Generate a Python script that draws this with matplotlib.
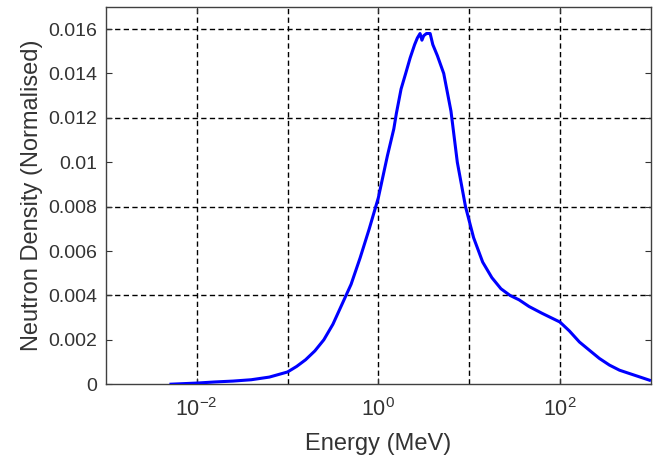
import matplotlib
matplotlib.use("Agg")
import matplotlib.pyplot as plt
from matplotlib.ticker import FixedLocator, NullLocator

plt.rcParams['font.family'] = ['Liberation Sans', 'DejaVu Sans']
plt.rcParams['mathtext.fontset'] = 'custom'
plt.rcParams['mathtext.rm'] = 'Liberation Sans'
plt.rcParams['mathtext.it'] = 'Liberation Sans'
plt.rcParams['lines.scale_dashes'] = False

# Energy (MeV) and normalised neutron density
energy = [0.0052, 0.01, 0.0158, 0.0251, 0.0398, 0.0631, 0.1, 0.126, 0.158,
          0.2, 0.251, 0.316, 0.398, 0.501, 0.631, 0.794, 1.0, 1.26, 1.48,
          1.58, 1.78, 2.0, 2.24, 2.51, 2.69, 2.88, 3.02, 3.16, 3.39, 3.72,
          3.98, 4.47, 5.25, 6.31, 7.41, 9.12, 11.2, 14.1, 17.8, 22.4, 28.2,
          35.5, 45.7, 63.1, 79.4, 100, 127, 164, 211, 272, 351, 453, 583,
          752, 968]
density = [0.0, 0.00005, 0.0001, 0.00014, 0.0002, 0.00032, 0.00055, 0.0008,
           0.0011, 0.0015, 0.0020, 0.0027, 0.0036, 0.0045, 0.0057, 0.0070,
           0.0084, 0.0103, 0.0115, 0.0122, 0.0133, 0.0140, 0.0147, 0.0153,
           0.0156, 0.0158, 0.0155, 0.0157, 0.0158, 0.0158, 0.0153, 0.0148,
           0.0140, 0.0123, 0.0100, 0.0080, 0.0066, 0.0055, 0.0048, 0.0043,
           0.0040, 0.0038, 0.0035, 0.0032, 0.0030, 0.0028, 0.0024, 0.0019,
           0.00153, 0.00116, 0.00086, 0.00063, 0.00048, 0.00033, 0.00018]

x_grid = [0.01, 0.1, 1, 10, 100]
x_ticks = [0.01, 1, 100]
x_ticklabels = ['$10^{-2}$', '$10^{0}$', '$10^{2}$']
y_ticks = [0, 0.002, 0.004, 0.006, 0.008, 0.01, 0.012, 0.014, 0.016]
y_ticklabels = ['0', '0.002', '0.004', '0.006', '0.008', '0.01', '0.012',
                '0.014', '0.016']
y_grid = [0.004, 0.008, 0.012, 0.016]

fig = plt.figure(figsize=(6.54, 4.59), dpi=100)
ax = fig.add_axes([0.162, 0.163, 0.833, 0.822])

# dashed grid, drawn under the curve
for xv in x_grid:
    ax.axvline(xv, color='black', lw=1.0, ls=(0, (3.8, 2.4)), zorder=1)
for yv in y_grid:
    ax.axhline(yv, color='black', lw=1.0, ls=(0, (3.8, 2.4)), zorder=1)

ax.plot(energy, density, color='#0000ff', lw=2.2, zorder=3)

ax.set_xscale('log')
ax.set_xlim(1e-3, 1e3)
ax.set_ylim(0, 0.017)

ax.xaxis.set_major_locator(FixedLocator(x_ticks))
ax.xaxis.set_minor_locator(NullLocator())
ax.set_xticklabels(x_ticklabels)
ax.set_yticks(y_ticks)
ax.set_yticklabels(y_ticklabels)

ax.tick_params(direction='in', length=4, width=0.8, top=True, right=True,
               colors='#333333')
ax.tick_params(axis='y', labelsize=14, pad=6)
ax.tick_params(axis='x', labelsize=15.5, pad=10)
for sp in ax.spines.values():
    sp.set_color('#404040')
    sp.set_linewidth(1.0)

ax.set_xlabel('Energy (MeV)', fontsize=17, color='#333333', labelpad=9)
ax.set_ylabel('Neutron Density (Normalised)', fontsize=17, color='#333333',
              labelpad=4)

fig.savefig('out.png', dpi=100)
